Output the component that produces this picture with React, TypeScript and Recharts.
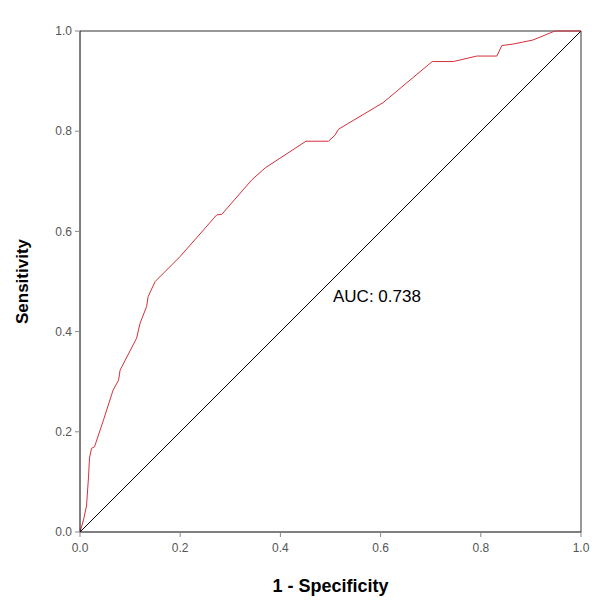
import { LineChart, Line, XAxis, YAxis, ReferenceLine, ReferenceDot } from 'recharts';

// ROC curve points (1 - specificity, sensitivity)
const fpr = [
  0, 0.007, 0.013, 0.017, 0.019, 0.023, 0.029, 0.047, 0.066, 0.077, 0.08, 0.113,
  0.12, 0.133, 0.136, 0.15, 0.2, 0.273, 0.283, 0.343, 0.37, 0.399, 0.451, 0.496,
  0.509, 0.516, 0.605, 0.703, 0.745, 0.792, 0.832, 0.842, 0.865, 0.904, 0.948, 1,
];
const tpr = [
  0, 0.024, 0.052, 0.11, 0.148, 0.167, 0.17, 0.224, 0.283, 0.303, 0.323, 0.387,
  0.417, 0.45, 0.47, 0.5, 0.55, 0.633, 0.634, 0.703, 0.727, 0.746, 0.78, 0.78,
  0.792, 0.804, 0.857, 0.939, 0.939, 0.95, 0.95, 0.971, 0.974, 0.982, 1, 1,
];
const ticks = [0, 0.2, 0.4, 0.6, 0.8, 1];
const auc = '0.738';

const roc = fpr.map((x, i) => ({ x, y: tpr[i] }));
const diagonal = [
  { x: 0, y: 0 },
  { x: 1, y: 1 },
];

const font = "'Liberation Sans', Arial, sans-serif";
const tickStyle = { fontSize: 12, fill: '#555', fontFamily: font };

export default function App() {
  return (
    <div style={{ position: 'absolute', left: 0, top: 0, background: '#fff' }}>
      <LineChart width={596} height={602} margin={{ top: 31, right: 15, left: 0, bottom: 0 }}>
        <XAxis
          type="number"
          dataKey="x"
          domain={[0, 1]}
          ticks={ticks}
          tickFormatter={(v: number) => v.toFixed(1)}
          height={70}
          tick={tickStyle}
          tickSize={5}
          tickMargin={6}
          stroke="#000"
          tickLine={{ stroke: '#888' }}
          allowDuplicatedCategory={false}
          label={{
            value: '1 - Specificity',
            position: 'insideBottom',
            offset: 10,
            style: { fontSize: 18, fontWeight: 'bold', fill: '#000', fontFamily: font },
          }}
        />
        <YAxis
          type="number"
          dataKey="y"
          domain={[0, 1]}
          ticks={ticks}
          tickFormatter={(v: number) => v.toFixed(1)}
          width={80}
          tick={tickStyle}
          tickSize={5}
          tickMargin={3}
          stroke="#000"
          tickLine={{ stroke: '#888' }}
          label={{
            value: 'Sensitivity',
            angle: -90,
            position: 'insideLeft',
            offset: 22,
            style: { fontSize: 17, fontWeight: 'bold', fill: '#000', fontFamily: font, textAnchor: 'middle' },
          }}
        />
        <ReferenceLine y={1} stroke="#333" />
        <ReferenceLine x={1} stroke="#333" />
        <Line
          data={diagonal}
          dataKey="y"
          type="linear"
          stroke="#000"
          strokeWidth={1}
          dot={false}
          isAnimationActive={false}
        />
        <Line
          data={roc}
          dataKey="y"
          type="linear"
          stroke="#d3303a"
          strokeWidth={1}
          dot={false}
          isAnimationActive={false}
        />
        <ReferenceDot
          x={0.505}
          y={0.471}
          r={0}
          fill="none"
          stroke="none"
          label={{
            value: `AUC: ${auc}`,
            position: 'right',
            offset: 0,
            style: { fontSize: 17, fill: '#000', fontFamily: font },
          }}
        />
      </LineChart>
    </div>
  );
}
